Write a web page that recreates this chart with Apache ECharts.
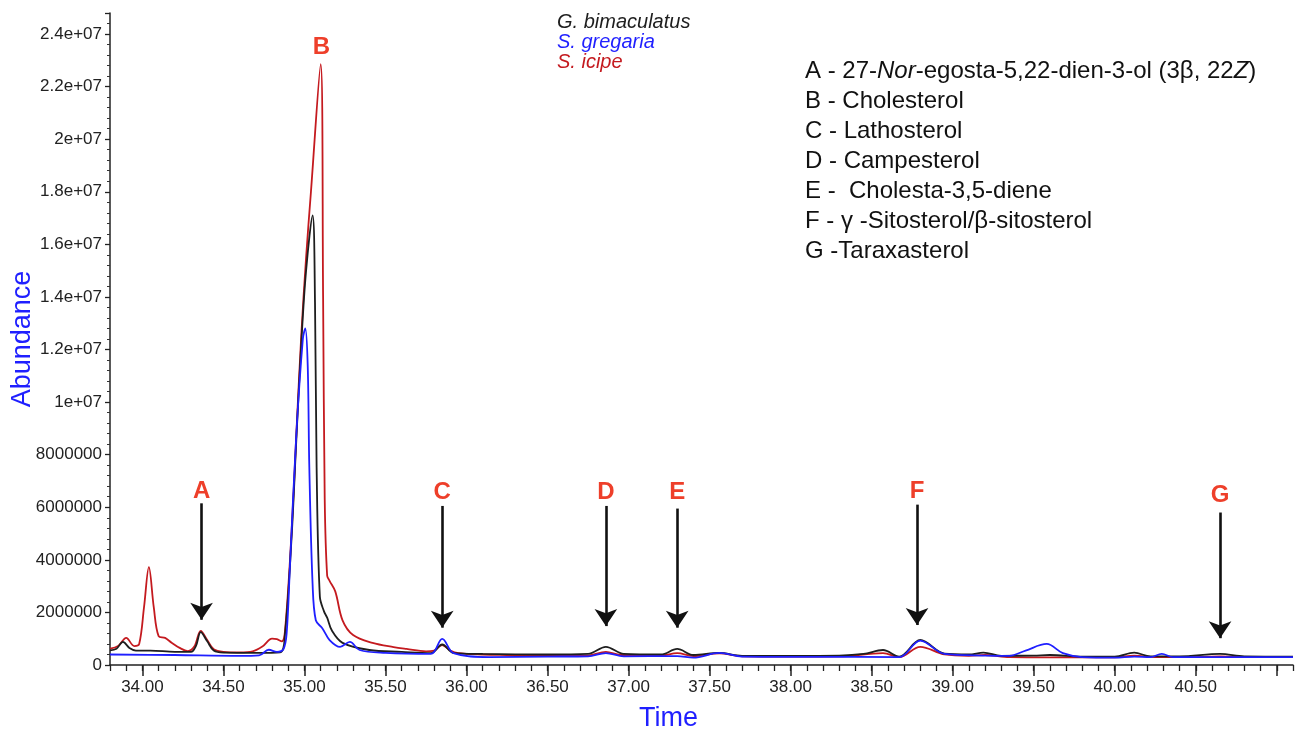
<!DOCTYPE html>
<html><head><meta charset="utf-8">
<script src="https://cdn.jsdelivr.net/npm/echarts@6/dist/echarts.min.js"></script>
<style>html,body{margin:0;padding:0;background:#fff}#c{width:1308px;height:734px}</style>
</head><body><div id="c"></div>
<script>
// ---------- data ----------
const xLabelValues = [34.0, 34.5, 35.0, 35.5, 36.0, 36.5, 37.0, 37.5, 38.0, 38.5, 39.0, 39.5, 40.0, 40.5];
const xMajorTicks = [34.0, 34.5, 35.0, 35.5, 36.0, 36.5, 37.0, 37.5, 38.0, 38.5, 39.0, 39.5, 40.0, 40.5, 41.0];
const yTickLabels = ['0', '2000000', '4000000', '6000000', '8000000', '1e+07', '1.2e+07', '1.4e+07', '1.6e+07', '1.8e+07', '2e+07', '2.2e+07', '2.4e+07'];
const seriesNames = ['G. bimaculatus', 'S. gregaria', 'S. icipe'];
const seriesColors = ['#1e1e1e', '#1f1fff', '#c41a1f'];

const gBimaculatus = [
  [33.80,0.56e6],[33.84,0.62e6],[33.88,0.88e6],[33.92,0.65e6],[33.96,0.55e6],[34.05,0.55e6],[34.20,0.5e6],
  [34.30,0.5e6],[34.33,0.72e6],[34.36,1.25e6],[34.40,0.9e6],[34.44,0.55e6],[34.50,0.47e6],[34.70,0.46e6],
  [34.85,0.48e6],[34.88,1.2e6],[34.92,4.8e6],[34.95,8.6e6],[34.98,12.2e6],[35.01,15.0e6],[35.05,17.1e6],
  [35.065,13.8e6],[35.075,7.5e6],[35.095,2.6e6],[35.12,2.05e6],[35.14,1.8e6],[35.17,1.3e6],[35.235,0.84e6],
  [35.40,0.57e6],[35.60,0.5e6],[35.78,0.45e6],[35.85,0.78e6],[35.92,0.45e6],[36.10,0.42e6],[36.50,0.4e6],
  [36.75,0.42e6],[36.86,0.69e6],[36.97,0.42e6],[37.20,0.4e6],[37.30,0.61e6],[37.40,0.38e6],[37.56,0.46e6],
  [37.70,0.35e6],[38.00,0.35e6],[38.30,0.36e6],[38.45,0.42e6],[38.57,0.57e6],[38.67,0.32e6],[38.80,0.95e6],
  [38.95,0.43e6],[39.10,0.4e6],[39.19,0.47e6],[39.30,0.35e6],[39.50,0.36e6],[39.60,0.38e6],[39.80,0.32e6],
  [40.00,0.32e6],[40.12,0.47e6],[40.22,0.33e6],[40.40,0.33e6],[40.65,0.42e6],[40.80,0.33e6],[41.10,0.32e6]
];
const sGregaria = [
  [33.80,0.4e6],[34.20,0.38e6],[34.60,0.35e6],[34.72,0.37e6],[34.78,0.58e6],[34.83,0.5e6],[34.87,0.6e6],
  [34.89,1.2e6],[34.91,3.7e6],[34.95,8.8e6],[34.99,12.4e6],[35.005,12.8e6],[35.02,11.4e6],[35.03,7.5e6],
  [35.05,3.1e6],[35.07,1.7e6],[35.11,1.4e6],[35.155,0.95e6],[35.22,0.69e6],[35.28,0.88e6],[35.34,0.57e6],
  [35.50,0.46e6],[35.78,0.42e6],[35.85,0.99e6],[35.92,0.45e6],[36.14,0.3e6],[36.50,0.32e6],[36.75,0.33e6],
  [36.86,0.45e6],[36.97,0.33e6],[37.30,0.34e6],[37.40,0.28e6],[37.56,0.46e6],[37.70,0.32e6],[38.00,0.31e6],
  [38.40,0.31e6],[38.67,0.3e6],[38.80,0.93e6],[38.95,0.42e6],[39.20,0.36e6],[39.35,0.35e6],[39.45,0.55e6],
  [39.58,0.8e6],[39.68,0.45e6],[39.80,0.3e6],[40.00,0.28e6],[40.12,0.32e6],[40.22,0.3e6],[40.29,0.42e6],
  [40.36,0.3e6],[40.60,0.3e6],[41.10,0.3e6]
];
const sIcipe = [
  [33.80,0.62e6],[33.85,0.72e6],[33.90,1.03e6],[33.95,0.72e6],[33.98,0.8e6],[34.01,2.2e6],[34.04,3.72e6],
  [34.07,2.2e6],[34.10,1.1e6],[34.14,1.03e6],[34.18,0.85e6],[34.23,0.65e6],[34.28,0.53e6],[34.32,0.7e6],
  [34.36,1.3e6],[34.40,0.95e6],[34.44,0.6e6],[34.50,0.5e6],[34.60,0.48e6],[34.68,0.52e6],[34.74,0.7e6],
  [34.80,1.0e6],[34.83,0.98e6],[34.86,0.9e6],[34.88,1.3e6],[34.92,5.0e6],[34.95,8.8e6],[34.98,12.5e6],
  [35.01,15.5e6],[35.04,18.0e6],[35.10,22.85e6],[35.115,14.0e6],[35.125,6.3e6],[35.14,3.4e6],[35.155,3.2e6],
  [35.19,2.8e6],[35.235,1.7e6],[35.30,1.14e6],[35.42,0.84e6],[35.55,0.68e6],[35.63,0.61e6],[35.75,0.52e6],
  [35.80,0.55e6],[35.85,0.76e6],[35.90,0.55e6],[35.95,0.45e6],[36.10,0.4e6],[36.25,0.38e6],[36.50,0.35e6],
  [36.75,0.36e6],[36.86,0.5e6],[36.95,0.38e6],[37.20,0.36e6],[37.30,0.45e6],[37.40,0.34e6],[37.56,0.44e6],
  [37.70,0.33e6],[38.00,0.32e6],[38.30,0.33e6],[38.57,0.45e6],[38.67,0.3e6],[38.80,0.69e6],[38.95,0.4e6],
  [39.10,0.35e6],[39.20,0.38e6],[39.35,0.3e6],[39.60,0.29e6],[39.80,0.29e6],[40.00,0.29e6],[40.12,0.36e6],
  [40.25,0.3e6],[40.50,0.3e6],[40.65,0.33e6],[40.80,0.3e6],[41.10,0.3e6]
];

// peak annotations
const peakLetters = ['A', 'B', 'C', 'D', 'E', 'F', 'G'];
const peakTimes = [34.365, 35.105, 35.85, 36.86, 37.30, 38.78, 40.65];
const peakLabelY = [6.6e6, 23.5e6, 6.55e6, 6.55e6, 6.55e6, 6.6e6, 6.45e6];
const arrowTopY = [6.15e6, null, 6.05e6, 6.05e6, 5.95e6, 6.1e6, 5.8e6];
const arrowTipY = [1.72e6, null, 1.42e6, 1.48e6, 1.42e6, 1.52e6, 1.02e6];

const compoundNames = [
  'A - 27-*Nor*-egosta-5,22-dien-3-ol (3β, 22*Z*)',
  'B - Cholesterol',
  'C - Lathosterol',
  'D - Campesterol',
  'E -  Cholesta-3,5-diene',
  'F - γ -Sitosterol/β-sitosterol',
  'G -Taraxasterol'
];

// ---------- chart ----------
const FONT = '"Liberation Sans", Arial, sans-serif';
const chart = echarts.init(document.getElementById('c'));

function richText(s) {
  return s.split('*').map((part, i) => part === '' ? '' : (i % 2 ? '{i|' + part + '}' : '{n|' + part + '}')).join('');
}

const markPointData = peakLetters.map((l, i) => ({ name: l, coord: [peakTimes[i], peakLabelY[i]], value: l }));
const markLineData = [];
peakLetters.forEach((l, i) => {
  if (arrowTopY[i] !== null) {
    markLineData.push([{ coord: [peakTimes[i], arrowTopY[i]] }, { coord: [peakTimes[i], arrowTipY[i]] }]);
  }
});

const seriesData = [gBimaculatus, sGregaria, sIcipe];
const drawOrder = [2, 0, 1];
const series = drawOrder.map((k) => ({
  name: seriesNames[k],
  type: 'line',
  data: seriesData[k],
  xAxisIndex: 0,
  yAxisIndex: 0,
  showSymbol: false,
  smooth: 0.35,
  lineStyle: { color: seriesColors[k], width: 1.8 },
  itemStyle: { color: seriesColors[k] },
  z: 2,
  silent: true
}));
series[0].markLine = {
  silent: true,
  symbol: ['none', 'arrow'],
  symbolSize: 17,
  label: { show: false },
  lineStyle: { color: '#111', width: 2.6, type: 'solid' },
  data: markLineData,
  z: 5
};
series[0].markPoint = {
  silent: true,
  symbol: 'circle',
  symbolSize: 1,
  itemStyle: { color: 'rgba(0,0,0,0)' },
  label: {
    show: true, position: 'inside', formatter: (p) => p.name,
    color: '#ee3f2a', fontSize: 24, fontWeight: 'bold', fontFamily: FONT
  },
  data: markPointData
};

const option = {
  animation: false,
  backgroundColor: '#fff',
  textStyle: { fontFamily: FONT },
  grid: { left: 110, right: 15, top: 13, bottom: 69, containLabel: false, outerBoundsMode: 'none' },
  legend: {
    orient: 'vertical',
    left: 552, top: 12, padding: 0,
    itemGap: 0, itemWidth: 0, itemHeight: 0,
    icon: 'rect',
    selectedMode: false,
    textStyle: { fontSize: 20, fontStyle: 'italic', fontFamily: FONT, lineHeight: 20 },
    data: seriesNames.map((n, i) => ({ name: n, textStyle: { color: seriesColors[i] } }))
  },
  xAxis: [{
    type: 'value', position: 'bottom',
    min: 33.8, max: 41.1, interval: 0.1,
    name: 'Time', nameLocation: 'middle', nameGap: 40,
    nameTextStyle: { color: '#1f1fff', fontSize: 27, fontFamily: FONT, padding: [0, 66, 0, 0] },
    axisLine: { show: true, onZero: false, lineStyle: { color: '#222', width: 1.5 } },
    axisTick: { show: true, length: 6, lineStyle: { color: '#222', width: 1.3 } },
    axisLabel: {
      customValues: xLabelValues, margin: 14,
      color: '#222', fontSize: 17, fontFamily: FONT,
      formatter: (v) => v.toFixed(2)
    },
    splitLine: { show: false }
  }, {
    type: 'value', position: 'bottom',
    min: 33.8, max: 41.1,
    axisLine: { show: false },
    axisTick: { show: true, customValues: xMajorTicks, length: 11, lineStyle: { color: '#222', width: 1.5 } },
    axisLabel: { show: false },
    splitLine: { show: false }
  }],
  yAxis: [{
    type: 'value',
    min: 0, max: 2.48e7, interval: 2e6,
    name: 'Abundance', nameLocation: 'middle', nameGap: 74, nameRotate: 90, nameMoveOverlap: false,
    nameTextStyle: { color: '#1f1fff', fontSize: 27, fontFamily: FONT },
    axisLine: { show: true, lineStyle: { color: '#222', width: 1.5 } },
    axisTick: { show: true, length: 5, lineStyle: { color: '#222', width: 1.3 } },
    minorTick: { show: true, splitNumber: 5, length: 3, lineStyle: { color: '#333', width: 1 } },
    axisLabel: {
      margin: 8, color: '#222', fontSize: 17, fontFamily: FONT, showMaxLabel: false,
      formatter: (v) => { const idx = Math.round(v / 2e6); return yTickLabels[idx] !== undefined ? yTickLabels[idx] : ''; }
    },
    splitLine: { show: false }
  }],
  graphic: compoundNames.map((s, i) => ({
    type: 'text',
    x: 805, y: 71 + 30 * i,
    silent: true,
    style: {
      text: richText(s),
      verticalAlign: 'middle',
      fill: '#111',
      rich: {
        n: { fontSize: 24, fontFamily: FONT, fill: '#111', color: '#111' },
        i: { fontSize: 24, fontFamily: FONT, fontStyle: 'italic', fill: '#111', color: '#111' }
      }
    }
  })),
  series: series
};
chart.setOption(option);
</script>
</body></html>
